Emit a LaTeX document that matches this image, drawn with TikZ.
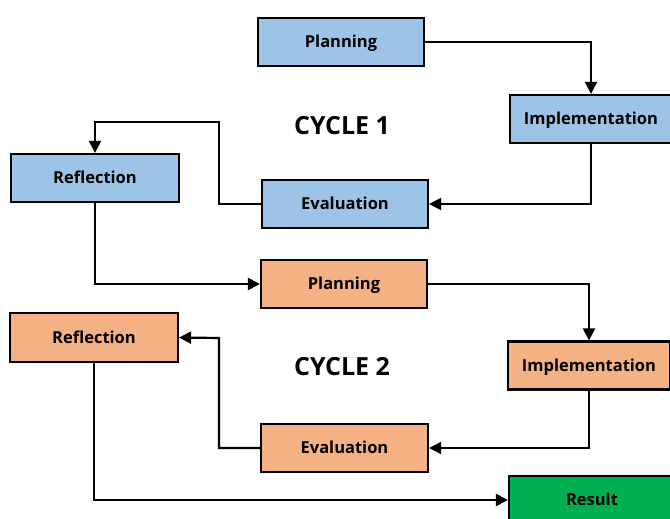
\documentclass[tikz,border=0pt]{standalone}
\usepackage{fontspec}
\setmainfont{Open Sans}
\usetikzlibrary{arrows.meta}
\definecolor{cblue}{HTML}{9DC3E6}
\definecolor{corange}{HTML}{F4B183}
\definecolor{cgreen}{HTML}{00B050}
\tikzset{
  box/.style={draw=black, line width=2.2pt, minimum width=166pt, minimum height=48pt, inner sep=0pt, text height=11.8pt, text depth=0pt, font=\fontsize{16.5}{19}\selectfont\bfseries},
  bluebox/.style={box, fill=cblue},
  orangebox/.style={box, fill=corange},
  greenbox/.style={box, fill=cgreen},
  conn/.style={line width=2.2pt, -{Triangle[length=12pt,width=12pt]}},
  cyc/.style={font=\fontsize{25}{29}\selectfont\bfseries, text height=17.8pt, text depth=0pt, inner sep=0pt}
}
\begin{document}
\begin{tikzpicture}[x=1pt,y=-1pt]
\useasboundingbox (0,0) rectangle (670,519);
\clip (0,0) rectangle (670,519);
% cycle 1
\node[bluebox] (p1) at (341,42) {Planning};
\node[bluebox, minimum width=162pt] (i1) at (591,119) {Implementation};
\node[bluebox] (e1) at (345,204) {Evaluation};
\node[bluebox, minimum width=168pt, minimum height=48pt] (r1) at (95,178) {Reflection};
\node[cyc] (c1) at (342,126) {CYCLE 1};
% cycle 2
\node[orangebox] (p2) at (344,284) {Planning};
\node[orangebox, minimum width=162pt] (i2) at (589,365.5) {Implementation};
\node[orangebox, minimum width=167pt] (e2) at (344.5,448) {Evaluation};
\node[orangebox, minimum width=168pt, minimum height=49pt] (r2) at (94,337.5) {Reflection};
\node[cyc] (c2) at (342,367) {CYCLE 2};
% result
\node[greenbox, minimum width=166pt] (res) at (592,500) {Result};
% connectors
\draw[conn] (p1.east) -| (i1.north);
\draw[conn] (i1.south) |- (e1.east);
\draw[conn] (e1.west) -- ++(-42,0) |- (95,122) -- (r1.north);
\draw[conn] (r1.south) |- (p2.west);
\draw[conn] (p2.east) -| (i2.north);
\draw[conn] (i2.south) |- (e2.east);
\draw[conn] (e2.west) -| (219,338) -- (r2.east);
\draw[conn] (r2.south) |- (res.west);
\end{tikzpicture}
\end{document}
